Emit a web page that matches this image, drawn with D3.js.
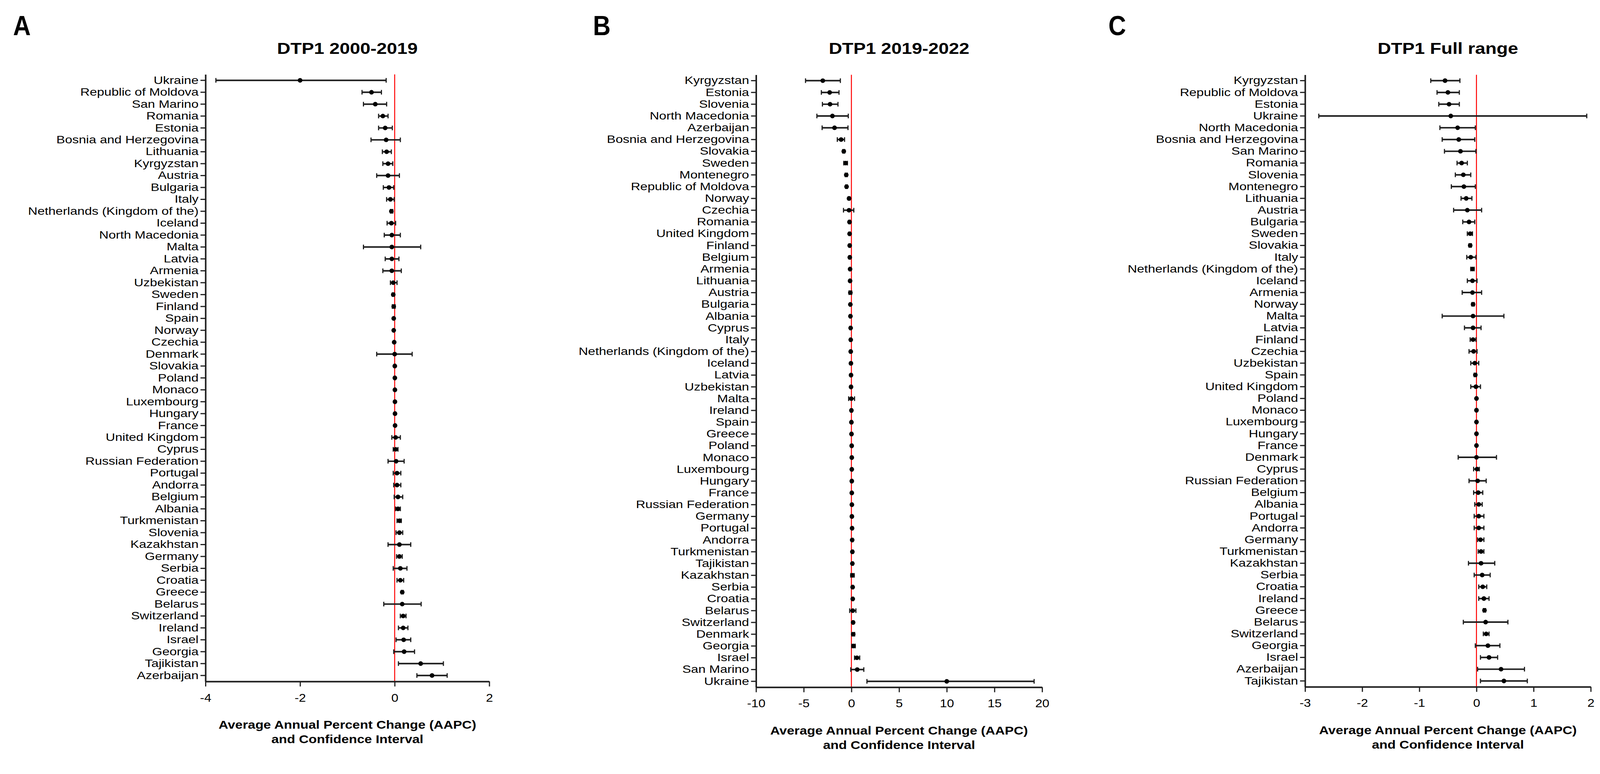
<!DOCTYPE html>
<html>
<meta charset="utf-8">
<style>
html, body { margin: 0; padding: 0; width: 100%; height: 100%; background: #fff; overflow: hidden; }
svg { display: block; width: 100vw; height: 100vh; }
text { font-family: Arial, "Liberation Sans", sans-serif; fill: #000; }
</style>
<body>
<script src="https://d3js.org/d3.v7.min.js"></script>
<script>
// ---- data: panel A, DTP1 2000-2019
const countriesA = ["Ukraine","Republic of Moldova","San Marino","Romania","Estonia","Bosnia and Herzegovina","Lithuania","Kyrgyzstan","Austria","Bulgaria","Italy","Netherlands (Kingdom of the)","Iceland","North Macedonia","Malta","Latvia","Armenia","Uzbekistan","Sweden","Finland","Spain","Norway","Czechia","Denmark","Slovakia","Poland","Monaco","Luxembourg","Hungary","France","United Kingdom","Cyprus","Russian Federation","Portugal","Andorra","Belgium","Albania","Turkmenistan","Slovenia","Kazakhstan","Germany","Serbia","Croatia","Greece","Belarus","Switzerland","Ireland","Israel","Georgia","Tajikistan","Azerbaijan"];
const aapcA  = [-2.0,-0.49,-0.41,-0.25,-0.20,-0.18,-0.17,-0.14,-0.14,-0.12,-0.09,-0.07,-0.07,-0.06,-0.06,-0.06,-0.06,-0.03,-0.03,-0.02,-0.02,-0.02,-0.01,0.0,0.003,0.004,0.005,0.006,0.007,0.008,0.02,0.02,0.03,0.05,0.05,0.07,0.07,0.10,0.10,0.10,0.10,0.12,0.12,0.16,0.16,0.18,0.18,0.19,0.20,0.55,0.79];
const lowerA = [-3.78,-0.69,-0.66,-0.34,-0.34,-0.50,-0.26,-0.25,-0.38,-0.24,-0.17,-0.09,-0.16,-0.22,-0.66,-0.20,-0.25,-0.09,-0.05,-0.05,-0.03,-0.03,-0.02,-0.38,-0.01,-0.01,-0.005,-0.005,-0.005,0.0,-0.06,-0.03,-0.14,-0.03,-0.02,-0.01,0.02,0.05,0.03,-0.14,0.04,-0.03,0.05,0.14,-0.23,0.12,0.08,0.03,-0.02,0.08,0.47];
const upperA = [-0.18,-0.28,-0.17,-0.14,-0.05,0.12,-0.07,-0.04,0.10,-0.02,-0.01,-0.04,0.02,0.12,0.55,0.09,0.14,0.05,-0.01,0.01,-0.01,-0.01,0.0,0.37,0.015,0.015,0.015,0.015,0.02,0.02,0.12,0.07,0.20,0.13,0.13,0.17,0.12,0.14,0.17,0.34,0.16,0.26,0.19,0.18,0.56,0.24,0.28,0.34,0.42,1.03,1.11];

// ---- data: panel B, DTP1 2019-2022
const countriesB = ["Kyrgyzstan","Estonia","Slovenia","North Macedonia","Azerbaijan","Bosnia and Herzegovina","Slovakia","Sweden","Montenegro","Republic of Moldova","Norway","Czechia","Romania","United Kingdom","Finland","Belgium","Armenia","Lithuania","Austria","Bulgaria","Albania","Cyprus","Italy","Netherlands (Kingdom of the)","Iceland","Latvia","Uzbekistan","Malta","Ireland","Spain","Greece","Poland","Monaco","Luxembourg","Hungary","France","Russian Federation","Germany","Portugal","Andorra","Turkmenistan","Tajikistan","Kazakhstan","Serbia","Croatia","Belarus","Switzerland","Denmark","Georgia","Israel","San Marino","Ukraine"];
const aapcB  = [-3.0,-2.28,-2.24,-1.99,-1.77,-1.08,-0.80,-0.61,-0.54,-0.51,-0.25,-0.25,-0.20,-0.19,-0.18,-0.17,-0.14,-0.14,-0.11,-0.11,-0.10,-0.08,-0.07,-0.07,-0.05,-0.04,-0.04,-0.01,0.0,0.0,0.01,0.03,0.04,0.04,0.04,0.04,0.05,0.05,0.07,0.08,0.10,0.10,0.11,0.13,0.14,0.14,0.18,0.19,0.22,0.58,0.61,10.0];
const lowerB = [-4.81,-3.15,-3.04,-3.62,-3.07,-1.48,-0.90,-0.80,-0.65,-0.60,-0.33,-0.83,-0.27,-0.26,-0.25,-0.24,-0.21,-0.21,-0.25,-0.18,-0.17,-0.15,-0.14,-0.14,-0.12,-0.11,-0.11,-0.29,-0.07,-0.07,-0.06,-0.04,-0.03,-0.03,-0.03,-0.03,-0.02,-0.02,0.0,0.01,0.03,0.03,-0.07,0.06,0.07,-0.18,0.11,0.04,0.04,0.33,-0.07,1.63];
const upperB = [-1.16,-1.30,-1.41,-0.33,-0.36,-0.72,-0.70,-0.42,-0.43,-0.42,-0.17,0.25,-0.13,-0.12,-0.11,-0.10,-0.07,-0.07,0.03,-0.04,-0.03,-0.01,0.0,0.0,0.02,0.03,0.03,0.33,0.07,0.07,0.08,0.10,0.11,0.11,0.11,0.11,0.12,0.12,0.14,0.15,0.17,0.17,0.29,0.20,0.21,0.47,0.25,0.34,0.40,0.87,1.30,19.16];

// ---- data: panel C, DTP1 full range
const countriesC = ["Kyrgyzstan","Republic of Moldova","Estonia","Ukraine","North Macedonia","Bosnia and Herzegovina","San Marino","Romania","Slovenia","Montenegro","Lithuania","Austria","Bulgaria","Sweden","Slovakia","Italy","Netherlands (Kingdom of the)","Iceland","Armenia","Norway","Malta","Latvia","Finland","Czechia","Uzbekistan","Spain","United Kingdom","Poland","Monaco","Luxembourg","Hungary","France","Denmark","Cyprus","Russian Federation","Belgium","Albania","Portugal","Andorra","Germany","Turkmenistan","Kazakhstan","Serbia","Croatia","Ireland","Greece","Belarus","Switzerland","Georgia","Israel","Azerbaijan","Tajikistan"];
const aapcC  = [-0.55,-0.50,-0.48,-0.45,-0.33,-0.31,-0.28,-0.26,-0.23,-0.22,-0.18,-0.16,-0.13,-0.11,-0.11,-0.10,-0.07,-0.07,-0.07,-0.06,-0.06,-0.06,-0.06,-0.05,-0.03,-0.02,-0.01,0.0,0.0,0.0,0.0,0.0,0.0,0.01,0.02,0.03,0.04,0.04,0.04,0.07,0.08,0.08,0.10,0.11,0.13,0.14,0.16,0.17,0.20,0.22,0.43,0.48];
const lowerC = [-0.80,-0.69,-0.66,-2.76,-0.64,-0.60,-0.56,-0.34,-0.37,-0.44,-0.27,-0.40,-0.24,-0.16,-0.13,-0.17,-0.10,-0.16,-0.25,-0.08,-0.60,-0.21,-0.11,-0.13,-0.10,-0.04,-0.10,-0.01,-0.01,-0.01,-0.01,-0.01,-0.32,-0.05,-0.13,-0.05,-0.03,-0.04,-0.04,0.02,0.03,-0.14,-0.04,0.04,0.04,0.12,-0.23,0.12,-0.02,0.07,0.02,0.07];
const upperC = [-0.29,-0.30,-0.30,1.93,-0.02,-0.03,-0.01,-0.16,-0.10,-0.02,-0.08,0.09,-0.03,-0.07,-0.09,-0.01,-0.04,0.01,0.09,-0.04,0.48,0.08,-0.01,0.01,0.04,0.0,0.07,0.01,0.01,0.01,0.01,0.01,0.35,0.05,0.17,0.11,0.10,0.13,0.13,0.13,0.13,0.32,0.24,0.18,0.22,0.16,0.55,0.22,0.41,0.37,0.84,0.89];

// ---- axis ticks and texts
const ticksA = [-4, -2, 0, 2];
const ticksB = [-10, -5, 0, 5, 10, 15, 20];
const ticksC = [-3, -2, -1, 0, 1, 2];
const panelTitles = ["DTP1 2000-2019", "DTP1 2019-2022", "DTP1 Full range"];
const panelLetters = ["A", "B", "C"];
const xTitleLines = ["Average Annual Percent Change (AAPC)", "and Confidence Interval"];

const W = 4150, H = 1982;
const svg = d3.select("body").append("svg")
    .attr("viewBox", `0 0 ${W} ${H}`)
    .attr("preserveAspectRatio", "xMidYMin meet");

// horizontal stretch of text (the figure is a bit wider than plain Arial)
function stretch(sel, k) {
  sel.each(function() {
    const t = d3.select(this);
    const x = +t.attr("x") || 0;
    t.attr("x", x / k).attr("transform", `scale(${k},1)`);
  });
}

const panels = [
  {countries: countriesA, aapc: aapcA, lo: lowerA, hi: upperA, ticks: ticksA,
   left: 533, right: 1269, top: 193, bottom: 1768, letterX: 34},
  {countries: countriesB, aapc: aapcB, lo: lowerB, hi: upperB, ticks: ticksB,
   left: 1961, right: 2703, top: 194, bottom: 1783, letterX: 1538},
  {countries: countriesC, aapc: aapcC, lo: lowerC, hi: upperC, ticks: ticksC,
   left: 3385, right: 4126, top: 194, bottom: 1782, letterX: 2875}
];

const ink = "#1e1e1e";

panels.forEach(function(p, i) {
  const x = d3.scaleLinear()
      .domain([p.ticks[0], p.ticks[p.ticks.length - 1]])
      .range([p.left, p.right]);
  const y = d3.scaleBand()
      .domain(p.countries)
      .range([p.top, p.bottom]);
  const g = svg.append("g");

  // zero line
  g.append("line")
      .attr("x1", x(0)).attr("x2", x(0))
      .attr("y1", p.top).attr("y2", p.bottom)
      .attr("stroke", "#ff0000").attr("stroke-width", 2.5);

  // error bars
  const rows = p.countries.map((c, j) => ({c: c, v: p.aapc[j], lo: p.lo[j], hi: p.hi[j]}));
  const bar = g.selectAll(".row").data(rows).enter().append("g")
      .attr("transform", d => `translate(0,${y(d.c) + y.bandwidth() / 2})`);
  bar.append("line")
      .attr("x1", d => x(d.lo)).attr("x2", d => x(d.hi))
      .attr("stroke", ink).attr("stroke-width", 4);
  bar.append("line")
      .attr("x1", d => x(d.lo)).attr("x2", d => x(d.lo))
      .attr("y1", -6).attr("y2", 6)
      .attr("stroke", ink).attr("stroke-width", 3);
  bar.append("line")
      .attr("x1", d => x(d.hi)).attr("x2", d => x(d.hi))
      .attr("y1", -6).attr("y2", 6)
      .attr("stroke", ink).attr("stroke-width", 3);
  bar.append("circle")
      .attr("cx", d => x(d.v)).attr("r", 6)
      .attr("fill", "#000");

  // y axis
  const ya = g.append("g")
      .attr("transform", `translate(${p.left},0)`)
      .call(d3.axisLeft(y).tickSize(13).tickSizeOuter(0).tickPadding(5));
  ya.select(".domain").attr("stroke", ink).attr("stroke-width", 4);
  ya.selectAll(".tick line").attr("stroke", ink).attr("stroke-width", 3);
  ya.selectAll(".tick text").attr("font-size", 28).attr("fill", "#000")
      .attr("font-family", "Arial, 'Liberation Sans', sans-serif");
  stretch(ya.selectAll(".tick text"), 1.21);

  // x axis (plain hyphen for negatives, as in the figure)
  const xa = g.append("g")
      .attr("transform", `translate(0,${p.bottom})`)
      .call(d3.axisBottom(x).tickValues(p.ticks).tickFormat(d => String(d))
            .tickSize(13).tickSizeOuter(0).tickPadding(18));
  xa.select(".domain").attr("stroke", ink).attr("stroke-width", 4);
  xa.selectAll(".tick line").attr("stroke", ink).attr("stroke-width", 3);
  xa.selectAll(".tick text").attr("font-size", 30).attr("fill", "#000")
      .attr("font-family", "Arial, 'Liberation Sans', sans-serif");
  stretch(xa.selectAll(".tick text"), 1.1);

  const cx = (p.left + p.right) / 2;

  // panel title
  const t = g.append("text")
      .attr("x", cx).attr("y", 140)
      .attr("text-anchor", "middle")
      .attr("font-size", 42).attr("font-weight", "bold")
      .text(panelTitles[i]);
  stretch(t, 1.14);

  // x axis title
  xTitleLines.forEach(function(line, k) {
    const tt = g.append("text")
        .attr("x", cx).attr("y", p.bottom + 123 + k * 37)
        .attr("text-anchor", "middle")
        .attr("font-size", 29).attr("font-weight", "bold")
        .text(line);
    stretch(tt, 1.2);
  });

  // panel letter
  const lt = g.append("text")
      .attr("x", p.letterX).attr("y", 91)
      .attr("font-size", 72).attr("font-weight", "bold")
      .text(panelLetters[i]);
  stretch(lt, 0.88);
});
</script>
</body>
</html>
